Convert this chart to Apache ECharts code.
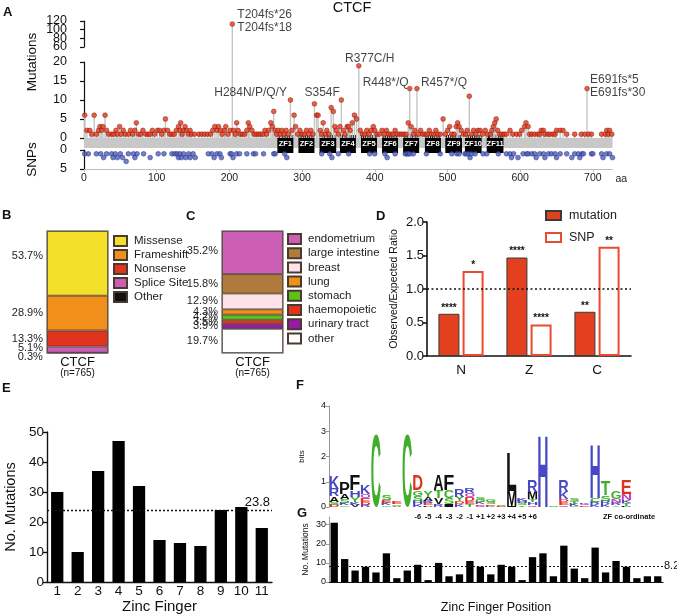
<!DOCTYPE html>
<html>
<head>
<meta charset="utf-8">
<script src="https://cdn.jsdelivr.net/npm/echarts@6/dist/echarts.min.js"></script>
<style>
html, body { margin: 0; padding: 0; background: #fff; }
#chart { width: 677px; height: 616px; }
</style>
</head>
<body>
<div id="chart"></div>
<script>
var FONT = '"Liberation Sans", Arial, sans-serif';

// ---- A: CTCF mutations / SNPs along the protein ([aa, count]) ----
var proteinLength = 727;
var mutations = [
  [1,6],[4,2],[8,2],[11,1],[14,6],[17,1],[20,2],[22,3],[24,2],[26,3],[29,6],[31,2],[34,1],[38,1],[41,1],[44,2],[46,1],[49,3],[51,1],[54,2],
  [57,1],[61,1],[64,2],[67,1],[70,2],[72,4],[75,1],[78,1],[81,2],[85,1],[88,1],[91,1],[94,2],[97,1],[101,2],[104,2],[107,1],[110,2],[112,5],[115,2],
  [118,1],[121,1],[124,1],[127,2],[130,3],[132,2],[133,4],[135,1],[137,2],[139,3],[141,2],[144,1],[146,2],[148,1],[152,1],[158,1],[162,1],[166,1],[170,1],[174,1],
  [177,2],[180,3],[183,2],[185,3],[188,2],[190,1],[193,2],[195,3],[198,1],[201,2],[204,113],[206,2],[208,1],[210,4],[212,2],[215,1],[218,1],[221,1],[224,2],[226,4],
  [228,3],[231,2],[234,1],[237,1],[240,1],[243,1],[246,1],[249,2],[251,1],[254,2],[257,4],[259,3],[261,7],[263,2],[265,1],[267,2],[270,1],[272,2],[275,1],[278,2],
  [281,1],[284,10],[286,2],[289,6],[291,3],[294,1],[297,2],[300,1],[303,1],[306,2],[309,1],[312,2],[315,1],[317,9],[320,6],[322,6],[325,2],[327,1],[329,4],[332,1],
  [334,2],[337,1],[340,8],[343,7],[345,3],[347,2],[350,1],[352,3],[354,10],[357,2],[359,1],[362,3],[364,3],[366,2],[369,4],[372,6],[375,5],[378,19],[380,2],[383,1],
  [386,1],[389,2],[392,1],[395,2],[398,3],[400,2],[403,1],[406,1],[410,2],[413,1],[416,2],[419,1],[422,1],[425,1],[428,2],[431,1],[434,1],[437,1],[440,1],[443,1],
  [446,4],[448,13],[450,3],[453,1],[455,2],[458,13],[460,1],[463,2],[466,1],[469,1],[472,1],[475,2],[478,1],[481,1],[484,2],[487,1],[490,1],[494,5],[497,1],[500,2],
  [503,3],[506,1],[509,1],[512,3],[514,4],[516,3],[519,2],[522,1],[525,1],[527,2],[530,11],[533,1],[536,2],[539,1],[542,2],[545,2],[548,1],[552,2],[555,1],[559,1],
  [561,2],[563,3],[565,4],[567,5],[569,2],[572,1],[575,1],[578,1],[581,1],[586,2],[590,1],[595,1],[599,1],[602,2],[606,3],[608,4],[611,3],[613,1],[616,1],[620,1],
  [624,1],[627,1],[629,2],[632,2],[634,1],[638,1],[641,1],[645,1],[648,1],[650,2],[655,2],[659,2],[664,1],[675,1],[684,1],[689,1],[692,13],[694,1],[698,1],[712,1],
  [717,1],[719,2],[721,1],[723,2],[726,1]
];
var snps = [
  [1,1],[6,1],[17,1],[23,1],[27,2],[31,1],[38,1],[40,2],[43,1],[46,2],[50,1],[53,2],[58,3],[61,1],[68,1],[70,2],[73,1],[82,1],[91,2],[102,1],
  [110,1],[121,1],[125,1],[128,1],[130,2],[132,1],[134,2],[137,1],[140,2],[144,1],[146,2],[150,1],[153,2],[171,1],[176,1],[179,2],[183,1],[187,1],[189,2],[201,1],
  [203,1],[205,2],[210,1],[214,1],[224,1],[233,1],[236,1],[247,1],[261,1],[263,1],[276,1],[279,2],[327,1],[338,1],[341,2],[350,1],[364,1],[393,1],[400,1],[414,1],
  [417,2],[428,1],[442,1],[444,1],[446,1],[448,1],[453,1],[471,1],[490,1],[506,1],[513,1],[516,1],[524,1],[526,1],[529,1],[531,2],[533,1],[538,1],[549,1],[554,1],
  [570,1],[581,1],[586,1],[588,2],[591,1],[597,2],[604,1],[609,1],[611,1],[616,1],[620,1],[622,2],[627,1],[632,1],[634,2],[639,1],[643,1],[648,1],[650,2],[655,1],
  [664,1],[671,2],[675,1],[680,1],[682,2],[685,1],[687,1],[698,1],[700,1],[712,1],[714,2],[719,1],[723,1],[727,2]
];
var zincFingers = [[266,288],[295,317],[324,347],[352,374],[381,403],[410,432],[439,461],[469,491],[497,520],[524,547],[554,577]];
var hotspots = [
  [204, 'T204fs*26\nT204fs*18'], [284, 'H284N/P/Q/Y'], [354, 'S354F'], [378, 'R377C/H'],
  [448, 'R448*/Q'], [458, 'R457*/Q'], [692, 'E691fs*5\nE691fs*30']
];

// ---- B: mutation types (%) bottom to top ----
var mutTypes = ['Other', 'Splice Site', 'Nonsense', 'Frameshift', 'Missense'];
var mutTypePct = [0.3, 5.1, 13.3, 28.9, 53.7];
// ---- C: tissue (%) bottom to top ----
var tissues = ['other', 'urinary tract', 'haemopoietic', 'stomach', 'lung', 'breast', 'large intestine', 'endometrium'];
var tissuePct = [19.7, 3.9, 3.5, 4.2, 4.3, 12.9, 15.8, 35.2];
// ---- D: observed/expected ----
var regions = ['N', 'Z', 'C'];
var ratioMut = [0.63, 1.47, 0.66];
var ratioSnp = [1.27, 0.47, 1.63];
var sigMut = ['****', '****', '**'];
var sigSnp = ['*', '****', '**'];
// ---- E: mutations per zinc finger ----
var zfLabels = ['1','2','3','4','5','6','7','8','9','10','11'];
var zfMutations = [30, 10, 37, 47, 32, 14, 13, 12, 24, 25, 18];
// ---- F: ZF logo, letters and bits per position ----
var logoCols = [
  [['K',0.5],['R',0.28],['A',0.22],['S',0.12],['D',0.08]],
  [['P',0.45],['A',0.2],['S',0.15],['K',0.1],['G',0.06]],
  [['F',0.62],['H',0.25],['Y',0.22],['K',0.1],['V',0.08]],
  [['K',0.35],['Q',0.2],['E',0.15],['D',0.1],['R',0.08]],
  [['C',2.85]],
  [['S',0.2],['E',0.12],['K',0.1],['G',0.06]],
  [['E',0.1],['G',0.06],['A',0.04]],
  [['C',2.85]],
  [['D',0.6],['G',0.22],['S',0.2],['H',0.15],['K',0.1]],
  [['Y',0.25],['A',0.15],['R',0.1],['E',0.08],['P',0.06]],
  [['A',0.6],['T',0.3],['V',0.25],['R',0.12]],
  [['F',0.6],['C',0.3],['S',0.25],['I',0.12]],
  [['R',0.28],['Y',0.18],['D',0.12],['K',0.1]],
  [['Q',0.2],['R',0.2],['D',0.15],['E',0.12],['T',0.1]],
  [['S',0.12],['G',0.1],['K',0.08],['E',0.06],['Q',0.05]],
  [['G',0.12],['S',0.1],['E',0.06],['K',0.05]],
  [['E',0.03],['S',0.03]],
  [['L',1.5],['M',0.6],['I',0.05]],
  [['K',0.12],['H',0.1],['S',0.08],['T',0.06]],
  [['R',0.45],['M',0.3],['T',0.12],['H',0.1],['Q',0.08]],
  [['H',2.85]],
  [['S',0.03]],
  [['R',0.45],['K',0.3],['D',0.12],['E',0.1],['Q',0.08]],
  [['S',0.12],['T',0.1],['K',0.08],['G',0.05]],
  [['E',0.06],['Q',0.06],['K',0.06]],
  [['H',2.1],['C',0.15],['K',0.1],['R',0.1]],
  [['T',0.55],['S',0.22],['R',0.15],['K',0.1]],
  [['G',0.3],['N',0.15],['R',0.1],['Y',0.06]],
  [['E',0.55],['N',0.25],['K',0.12],['T',0.1],['P',0.05]],
  [], [], []
];
var zfCoord = ['','','','','','','','','-6','-5','-4','-3','-2','-1','+1','+2','+3','+4','+5','+6','','','','','','','','','','','',''];
// ---- G: mutations per ZF position ----
var posMutations = [31,12,6,8,5,15,2,6,9,1,10,3,4,11,8,4,9,8,1,13,15,3,19,7,2,18,5,11,8,2,3,3];

var lowMax = 20, upMin = 60, upMax = 120;
var colMut = ['#111111', '#cc5fb5', '#e0341c', '#f0901a', '#f2e02a'];
var colTissue = ['#ffffff', '#9a1aa8', '#e0341c', '#5cc21a', '#f0901a', '#fbe3e7', '#b07a3c', '#cc5fb5'];
var letterColor = {K:'#4848c4',R:'#4848c4',H:'#4848c4',D:'#e0301e',E:'#e0301e',N:'#c43ec4',Q:'#c43ec4',
  G:'#3fae2a',S:'#3fae2a',T:'#3fae2a',Y:'#3fae2a',C:'#3fae2a'};

var measureCtx = document.createElement('canvas').getContext('2d');
var glyphCache = {};
function glyph(ch) {
  if (!glyphCache[ch]) {
    measureCtx.font = 'bold 100px ' + FONT;
    measureCtx.textAlign = 'center';
    measureCtx.textBaseline = 'middle';
    var m = measureCtx.measureText(ch);
    glyphCache[ch] = {l: m.actualBoundingBoxLeft, r: m.actualBoundingBoxRight, a: m.actualBoundingBoxAscent, d: m.actualBoundingBoxDescent};
  }
  return glyphCache[ch];
}

var chart = echarts.init(document.getElementById('chart'));

var axisBlack = {show: true, lineStyle: {color: '#111', width: 1.2}};
var tickBlack = {show: true, length: 4, lineStyle: {color: '#111', width: 1.2}};
function lbl(size, extra) {
  var o = {color: '#111', fontFamily: FONT, fontSize: size, margin: 3};
  for (var k in extra) o[k] = extra[k];
  return o;
}
function isEnd(v) { return v === upMin || v === upMax; }

var grids = [
  {left: 84, right: 64.5, top: 21, height: 26},     // A upper
  {left: 84, right: 64.5, top: 62, height: 76},     // A lower
  {left: 84, right: 64.5, top: 150, height: 19},    // A snps
  {left: 47, top: 231, width: 61, height: 122, show: true, borderColor: '#8a8a8a', borderWidth: 1.5}, // B
  {left: 222, top: 231, width: 61, height: 122, show: true, borderColor: '#8a8a8a', borderWidth: 1.5}, // C
  {left: 427, top: 222, width: 204, height: 134},   // D
  {left: 47, top: 432, width: 225, height: 150},    // E
  {left: 329, top: 406, width: 334, height: 101},   // F
  {left: 329, top: 517, width: 334, height: 65}     // G
];

var aX = function (gi, show) {
  return {type: 'value', gridIndex: gi, min: 0, max: proteinLength, interval: 100, show: show,
    splitLine: {show: false},
    axisLine: {show: true, onZero: false, lineStyle: {color: '#bbb'}},
    axisTick: {show: true, length: 3, lineStyle: {color: '#bbb'}},
    axisLabel: lbl(10.5, {showMaxLabel: false, margin: 4, color: '#222'}),
    name: 'aa', nameLocation: 'end', nameGap: 3,
    nameTextStyle: {fontFamily: FONT, fontSize: 10.5, color: '#222', verticalAlign: 'top', padding: [5, 0, 0, 0]}};
};

var xAxes = [
  aX(0, false), aX(1, false), aX(2, true),
  {type: 'category', gridIndex: 3, data: ['CTCF'], axisLine: {show: false}, axisTick: {show: false},
    axisLabel: {formatter: 'CTCF\n{s|(n=765)}', color: '#111', fontFamily: FONT, fontSize: 13, lineHeight: 11, margin: 4,
      rich: {s: {fontSize: 10, fontFamily: FONT, color: '#111', lineHeight: 11}}}},
  {type: 'category', gridIndex: 4, data: ['CTCF'], axisLine: {show: false}, axisTick: {show: false},
    axisLabel: {formatter: 'CTCF\n{s|(n=765)}', color: '#111', fontFamily: FONT, fontSize: 13, lineHeight: 11, margin: 4,
      rich: {s: {fontSize: 10, fontFamily: FONT, color: '#111', lineHeight: 11}}}},
  {type: 'category', gridIndex: 5, data: regions, axisLine: {show: true, lineStyle: {color: '#111', width: 1.6}},
    axisTick: {show: false}, axisLabel: lbl(13.5, {margin: 7})},
  {type: 'category', gridIndex: 6, data: zfLabels, axisLine: {show: true, lineStyle: {color: '#111', width: 1.4}},
    axisTick: {show: false}, axisLabel: lbl(13.5, {margin: 2}),
    name: 'Zinc Finger', nameLocation: 'middle', nameGap: 17,
    nameTextStyle: {fontFamily: FONT, fontSize: 15, color: '#111'}},
  {type: 'category', gridIndex: 7, data: posMutations.map(function (v, i) { return String(i + 1); }),
    axisLine: {show: false}, axisTick: {show: false},
    axisLabel: lbl(7.5, {interval: 0, margin: 6, fontWeight: 'bold', formatter: function (v, i) { return zfCoord[i]; }})},
  {type: 'category', gridIndex: 8, data: posMutations.map(function (v, i) { return String(i + 1); }),
    axisLine: {show: true, lineStyle: {color: '#111', width: 1.2}}, axisTick: {show: false}, axisLabel: {show: false},
    name: 'Zinc Finger Position', nameLocation: 'middle', nameGap: 19,
    nameTextStyle: {fontFamily: FONT, fontSize: 12.5, color: '#111'}}
];

var yAxes = [
  {type: 'value', gridIndex: 0, min: upMin, max: upMax, interval: 20, offset: 14, position: 'left', splitLine: {show: false},
    axisLine: axisBlack, axisTick: tickBlack,
    axisLabel: lbl(12.5, {formatter: function (v) { return isEnd(v) ? '' : String(v); }})},
  {type: 'value', gridIndex: 1, min: 0, max: lowMax, interval: 5, offset: 14, splitLine: {show: false},
    axisLine: axisBlack, axisTick: tickBlack, axisLabel: lbl(12.5, {showMinLabel: true, showMaxLabel: true})},
  {type: 'value', gridIndex: 2, min: 0, max: 5, interval: 5, inverse: true, offset: 14, splitLine: {show: false},
    axisLine: axisBlack, axisTick: tickBlack, axisLabel: lbl(12.5, {showMinLabel: true, showMaxLabel: true}),
    name: 'SNPs', nameLocation: 'middle', nameGap: 31, nameRotate: 90,
    nameTextStyle: {fontFamily: FONT, fontSize: 13.5, color: '#111'}},
  {type: 'value', gridIndex: 3, min: 0, max: 101.3, show: false},
  {type: 'value', gridIndex: 4, min: 0, max: 99.5, show: false},
  {type: 'value', gridIndex: 5, min: 0, max: 2, interval: 0.5, splitLine: {show: false},
    axisLine: {show: true, lineStyle: {color: '#111', width: 1.6}}, axisTick: {show: true, length: 4, lineStyle: {color: '#111', width: 1.6}},
    axisLabel: lbl(13, {formatter: function (v) { return v.toFixed(1); }}),
    name: 'Observed/Expected Ratio', nameLocation: 'middle', nameGap: 27, nameRotate: 90,
    nameTextStyle: {fontFamily: FONT, fontSize: 10.5, color: '#111'}},
  {type: 'value', gridIndex: 6, min: 0, max: 50, interval: 10, splitLine: {show: false},
    axisLine: {show: true, lineStyle: {color: '#111', width: 1.4}}, axisTick: {show: true, length: 4, lineStyle: {color: '#111', width: 1.4}},
    axisLabel: lbl(13.5),
    name: 'No. Mutations', nameLocation: 'middle', nameGap: 29, nameRotate: 90,
    nameTextStyle: {fontFamily: FONT, fontSize: 14.5, color: '#111'}},
  {type: 'value', gridIndex: 7, min: 0, max: 4, interval: 1, splitLine: {show: false},
    axisLine: {show: true, lineStyle: {color: '#999'}}, axisTick: {show: true, length: 3, lineStyle: {color: '#999'}},
    axisLabel: lbl(9),
    name: 'bits', nameLocation: 'middle', nameGap: 23, nameRotate: 90,
    nameTextStyle: {fontFamily: FONT, fontSize: 8, color: '#111'}},
  {type: 'value', gridIndex: 8, min: 0, max: 34, interval: 10, splitLine: {show: false},
    axisLine: {show: true, lineStyle: {color: '#999'}}, axisTick: {show: true, length: 3, lineStyle: {color: '#999'}},
    axisLabel: lbl(9, {showMaxLabel: false}),
    name: 'No. Mutations', nameLocation: 'middle', nameGap: 19, nameRotate: 90,
    nameTextStyle: {fontFamily: FONT, fontSize: 8.5, color: '#111'}},
  // second label layer for the upper broken axis: only its end labels
  {type: 'value', gridIndex: 0, min: upMin, max: upMax, interval: 20, offset: 14, position: 'left', splitLine: {show: false},
    axisLine: {show: false}, axisTick: {show: false},
    axisLabel: lbl(12.5, {showMinLabel: true, showMaxLabel: true, formatter: function (v) { return isEnd(v) ? String(v) : ''; }})}
];

var series = [];

// protein band
series.push({type: 'custom', xAxisIndex: 1, yAxisIndex: 1, z: 1, silent: true, data: [[0, proteinLength]],
  renderItem: function (params, api) {
    var p0 = api.coord([api.value(0), 0]), p1 = api.coord([api.value(1), 0]);
    return {type: 'rect', shape: {x: p0[0], y: p0[1], width: p1[0] - p0[0], height: 10}, style: {fill: '#c8c8c8'}};
  }});
// zinc finger boxes
series.push({type: 'custom', xAxisIndex: 1, yAxisIndex: 1, z: 2, silent: true,
  data: zincFingers.map(function (z, i) { return [z[0], z[1], i + 1]; }),
  renderItem: function (params, api) {
    var p0 = api.coord([api.value(0), 0]), p1 = api.coord([api.value(1), 0]);
    return {type: 'group', children: [
      {type: 'rect', shape: {x: p0[0], y: p0[1] - 3, width: p1[0] - p0[0], height: 18}, style: {fill: '#000'}},
      {type: 'text', x: (p0[0] + p1[0]) / 2, y: p0[1] + 6,
        style: {text: 'ZF' + api.value(2), fill: '#fff', fontFamily: FONT, fontSize: 7.5, fontWeight: 'bold',
          textAlign: 'center', textVerticalAlign: 'middle'}}
    ]};
  }});
// stems
series.push({type: 'custom', xAxisIndex: 1, yAxisIndex: 1, z: 3, silent: true, data: mutations,
  renderItem: function (params, api) {
    var x = api.value(0), v = api.value(1);
    var p0 = api.coord([x, 0]), p1 = api.coord([x, Math.min(v, lowMax)]);
    return {type: 'line', shape: {x1: p0[0], y1: p0[1], x2: p1[0], y2: p1[1]}, style: {stroke: '#c4c4c4', lineWidth: 1.4}};
  }});
series.push({type: 'custom', xAxisIndex: 0, yAxisIndex: 0, z: 3, silent: true,
  data: mutations.filter(function (m) { return m[1] >= upMin; }),
  renderItem: function (params, api) {
    var x = api.value(0), v = api.value(1);
    var p0 = api.coord([x, upMin]), p1 = api.coord([x, v]);
    return {type: 'line', shape: {x1: p0[0], y1: p0[1] + 15, x2: p1[0], y2: p1[1]}, style: {stroke: '#c4c4c4', lineWidth: 1.4}};
  }});
var redDot = {color: '#e5391b', borderColor: '#7d1608', borderWidth: 0.6};
series.push({type: 'scatter', xAxisIndex: 1, yAxisIndex: 1, z: 4, symbolSize: 4.8, itemStyle: redDot,
  data: mutations.filter(function (m) { return m[1] <= lowMax; })});
series.push({type: 'scatter', xAxisIndex: 0, yAxisIndex: 0, z: 4, symbolSize: 4.8, itemStyle: redDot,
  data: mutations.filter(function (m) { return m[1] >= upMin; })});
series.push({type: 'scatter', xAxisIndex: 2, yAxisIndex: 2, z: 4, symbolSize: 4.8,
  itemStyle: {color: '#4f5fc0', borderColor: '#1f2a70', borderWidth: 0.6}, data: snps});

// hotspot labels
var hotLabel = {
  204: {position: 'right', distance: 5, offset: [0, -3]},
  284: {position: 'left', distance: 3.5, offset: [0, -7]},
  354: {position: 'left', distance: 1.5, offset: [0, -7]},
  378: {position: 'top', distance: 1, offset: [11, 0]},
  448: {position: 'left', distance: 1, offset: [0, -6]},
  458: {position: 'right', distance: 4, offset: [0, -6]},
  692: {position: 'right', distance: 3, offset: [0, -2]}
};
function hotData(upper) {
  var out = [];
  hotspots.forEach(function (h) {
    var m = mutations.filter(function (d) { return d[0] === h[0]; })[0];
    if ((m[1] >= upMin) !== upper) return;
    var l = hotLabel[h[0]];
    out.push({value: [m[0], m[1]], label: {show: true, formatter: h[1], position: l.position, distance: l.distance,
      offset: l.offset, color: '#111', fontFamily: FONT, fontSize: 12, lineHeight: 13}});
  });
  return out;
}
series.push({type: 'scatter', xAxisIndex: 1, yAxisIndex: 1, z: 5, symbolSize: 0, silent: true, data: hotData(false)});
series.push({type: 'scatter', xAxisIndex: 0, yAxisIndex: 0, z: 5, symbolSize: 0, silent: true, data: hotData(true)});

// B
var offB = {'Missense': -7, 'Splice Site': -2, 'Other': 4};
mutTypes.forEach(function (t, i) {
  series.push({type: 'bar', name: t, xAxisIndex: 3, yAxisIndex: 3, stack: 'B', barWidth: '100%', data: [mutTypePct[i]],
    itemStyle: {color: colMut[i], borderColor: '#4a3a30', borderWidth: 0.8},
    label: {show: true, position: 'left', distance: 4, formatter: '{c}%', color: '#222', fontFamily: FONT, fontSize: 11,
      offset: [0, offB[t] || 0]}});
});
// C
var offC = {'endometrium': -2};
tissues.forEach(function (t, i) {
  series.push({type: 'bar', name: t, xAxisIndex: 4, yAxisIndex: 4, stack: 'C', barWidth: '100%', data: [tissuePct[i]],
    itemStyle: {color: colTissue[i], borderColor: '#4a3a30', borderWidth: 0.8},
    label: {show: true, position: 'left', distance: 4, formatter: '{c}%', color: '#222', fontFamily: FONT, fontSize: 11,
      offset: [0, offC[t] || 0]}});
});
// D
series.push({type: 'bar', name: 'mutation', xAxisIndex: 5, yAxisIndex: 5, barWidth: 21, barGap: '15%', data: ratioMut,
  itemStyle: {color: '#e2401e', borderColor: '#3a3a3a', borderWidth: 1},
  label: {show: true, position: 'top', distance: 1, formatter: function (p) { return sigMut[p.dataIndex]; },
    color: '#111', fontFamily: FONT, fontSize: 10, fontWeight: 'bold'},
  markLine: {silent: true, symbol: 'none', data: [{yAxis: 1}], label: {show: false},
    lineStyle: {type: [2, 2.5], color: '#111', width: 1.5}}});
series.push({type: 'bar', name: 'SNP', xAxisIndex: 5, yAxisIndex: 5, barWidth: 21, data: ratioSnp,
  itemStyle: {color: '#fff', borderColor: '#ec4a2e', borderWidth: 2},
  label: {show: true, position: 'top', distance: 1, formatter: function (p) { return sigSnp[p.dataIndex]; },
    color: '#111', fontFamily: FONT, fontSize: 10, fontWeight: 'bold'}});
// E
series.push({type: 'bar', xAxisIndex: 6, yAxisIndex: 6, barWidth: '60%', data: zfMutations, itemStyle: {color: '#000'},
  markLine: {silent: true, symbol: 'none', data: [{type: 'average'}],
    lineStyle: {type: [2, 2], color: '#111', width: 1.3},
    label: {position: 'insideEndTop', distance: 2, formatter: function (p) { return p.value.toFixed(1); },
      color: '#111', fontFamily: FONT, fontSize: 13}}});
// F logo
series.push({type: 'custom', xAxisIndex: 7, yAxisIndex: 7, silent: true,
  data: logoCols.map(function (c, i) { return [i]; }),
  renderItem: function (params, api) {
    var i = api.value(0);
    var stack = logoCols[i].slice().sort(function (a, b) { return a[1] - b[1]; });
    var w = api.size([1, 0])[0] * 0.9;
    var cx = api.coord([i, 0])[0];
    var acc = 0, children = [];
    stack.forEach(function (s) {
      var yb = api.coord([i, acc])[1];
      acc += s[1];
      var yt = api.coord([i, acc])[1];
      var g = glyph(s[0]);
      var sx = w / (g.l + g.r), sy = (yb - yt) / (g.a + g.d);
      children.push({type: 'text', x: cx - sx * (g.r - g.l) / 2, y: yt + sy * g.a, scaleX: sx, scaleY: sy,
        style: {text: s[0], fill: letterColor[s[0]] || '#111', fontFamily: FONT, fontSize: 100, fontWeight: 'bold',
          textAlign: 'center', textVerticalAlign: 'middle'}});
    });
    return {type: 'group', children: children};
  }});
// G
series.push({type: 'bar', xAxisIndex: 8, yAxisIndex: 8, barWidth: '70%', data: posMutations, itemStyle: {color: '#000'},
  markLine: {silent: true, symbol: 'none', data: [{type: 'average'}],
    lineStyle: {type: [2, 2], color: '#111', width: 1.2},
    label: {position: 'end', distance: 1, formatter: function (p) { return p.value.toFixed(1); },
      color: '#111', fontFamily: FONT, fontSize: 11}}});

function txt(x, y, s, size, weight, extra) {
  var o = {type: 'text', x: x, y: y, silent: true,
    style: {text: s, fill: '#111', fontFamily: FONT, fontSize: size, fontWeight: weight || 'normal',
      textAlign: 'left', textVerticalAlign: 'middle'}};
  for (var k in extra) { if (k === 'rotation') o.rotation = extra[k]; else o.style[k] = extra[k]; }
  return o;
}

var legendText = {fontFamily: FONT, color: '#222', fontSize: 11.5, lineHeight: 10, padding: [0, 0, 0, 2]};

var option = {
  animation: false,
  backgroundColor: '#fff',
  textStyle: {fontFamily: FONT},
  grid: grids,
  xAxis: xAxes,
  yAxis: yAxes,
  legend: [
    {data: ['Missense', 'Frameshift', 'Nonsense', 'Splice Site', 'Other'], orient: 'vertical', left: 113, top: 235,
      padding: 0, itemWidth: 13, itemHeight: 10, itemGap: 2, icon: 'rect', textStyle: legendText, selectedMode: false},
    {data: ['endometrium', 'large intestine', 'breast', 'lung', 'stomach', 'haemopoietic', 'urinary tract', 'other'],
      orient: 'vertical', left: 287, top: 233, padding: 0, itemWidth: 13, itemHeight: 10, itemGap: 2.2, icon: 'rect',
      textStyle: legendText, selectedMode: false},
    {data: ['mutation', 'SNP'], orient: 'vertical', left: 545, top: 209, padding: 0, itemWidth: 15, itemHeight: 9,
      itemGap: 9, icon: 'rect', selectedMode: false,
      textStyle: {fontFamily: FONT, color: '#222', fontSize: 12.5, lineHeight: 9, padding: [0, 0, 0, 3]}}
  ],
  graphic: [
    txt(3, 12, 'A', 13, 'bold'),
    txt(352, 8, 'CTCF', 14.5, 'normal', {textAlign: 'center'}),
    txt(32, 62, 'Mutations', 13.5, 'normal', {textAlign: 'center', rotation: Math.PI / 2}),
    txt(2, 215, 'B', 13, 'bold'),
    txt(186, 216, 'C', 13, 'bold'),
    txt(376, 216, 'D', 13, 'bold'),
    txt(2, 388, 'E', 13, 'bold'),
    txt(296, 385, 'F', 13, 'bold'),
    txt(297, 513, 'G', 13, 'bold'),
    txt(603, 517, 'ZF co-ordinate', 7.5, 'bold')
  ],
  series: series
};
chart.setOption(option);
</script>
</body>
</html>
